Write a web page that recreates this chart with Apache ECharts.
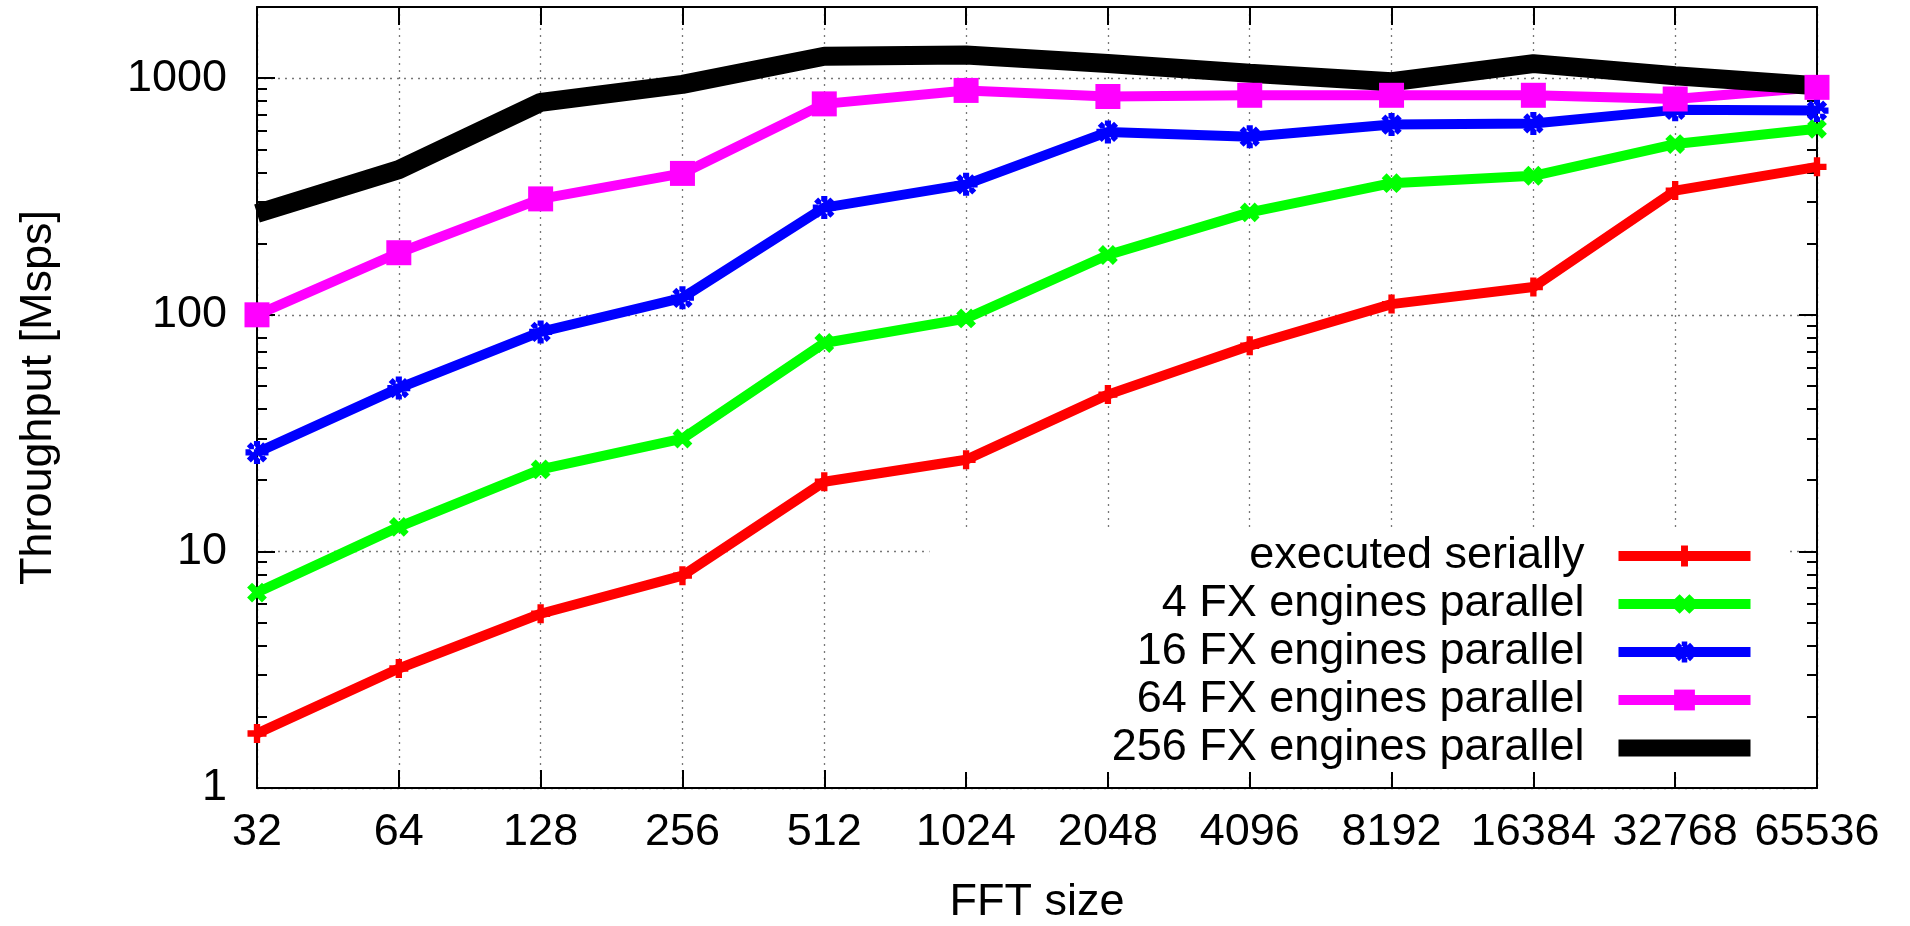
<!DOCTYPE html>
<html>
<head>
<meta charset="utf-8">
<script src="https://cdn.jsdelivr.net/npm/echarts@6/dist/echarts.min.js"></script>
<style>
html,body{margin:0;padding:0;background:#fff;}
#chart{width:1910px;height:926px;}
</style>
</head>
<body>
<div id="chart"></div>
<script>
// ---- data ----
var categories = ['32','64','128','256','512','1024','2048','4096','8192','16384','32768','65536'];
var serial  = [1.7, 3.2, 5.45, 7.9, 19.7, 24.4, 46, 74, 111, 131, 335, 422];
var fx4     = [6.7, 12.7, 22.2, 30, 76, 96.5, 179, 271, 360, 387, 527, 611];
var fx16    = [26.2, 49, 84.7, 118, 284, 356, 593, 566, 637, 644, 735, 730];
var fx64    = [100, 183, 309, 396, 779, 888, 837, 847, 847, 847, 817, 915];
var fx256   = [268, 411, 790, 942, 1238, 1253, 1153, 1049, 966, 1153, 1025, 929];
var seriesNames = ['executed serially','4 FX engines parallel','16 FX engines parallel','64 FX engines parallel','256 FX engines parallel'];
var majorTickValues = [1, 10, 100, 1000];
var minorTickValues = [2,3,4,5,6,7,8,9,20,30,40,50,60,70,80,90,200,300,400,500,600,700,800,900,2000];

var FONT = "'Liberation Sans', Arial, Helvetica, sans-serif";
var plusPath = 'path://M-2,-6H2V-2H6V2H2V6H-2V2H-6V-2H-2Z';
var starPath = 'path://M-1.6,-6H1.6V6H-1.6Z M-6,-1.6H6V1.6H-6Z M3.2,5.3L5.3,3.2L-3.2,-5.3L-5.3,-3.2Z M-3.2,5.3L-5.3,3.2L3.2,-5.3L5.3,-3.2Z';

var chart = echarts.init(document.getElementById('chart'));
var gridStyle = {color:'#777', width:1.3, type:[2,5]};
function yAx(pos, major, labels) {
  return {
    type:'log', min:1, max:2000, position:pos,
    axisLine:{show:major, onZero:false, lineStyle:{color:'#000', width:2}},
    axisTick:{show:true, inside:true, length: major?18:10, lineStyle:{color:'#000', width:2},
              customValues: major ? majorTickValues : minorTickValues},
    minorTick:{show:false},
    axisLabel:{show:labels, color:'#000', fontSize:45, fontFamily:FONT, margin:30,
               customValues: majorTickValues,
               formatter:function(v){ return String(Math.round(v)); }},
    splitLine: labels ? {show:true, lineStyle:gridStyle} : {show:false},
    name: labels ? 'Throughput [Msps]' : '',
    nameLocation:'middle', nameGap:196, nameRotate:90,
    nameTextStyle:{color:'#000', fontSize:45, fontFamily:FONT}
  };
}
function xAx(pos, labels) {
  return {
    type:'category', data:categories, boundaryGap:false, position:pos,
    axisLine:{show:true, onZero:false, lineStyle:{color:'#000', width:2}},
    axisTick:{show:true, inside:true, length:18, lineStyle:{color:'#000', width:2}},
    axisLabel:{show:labels, color:'#000', fontSize:45, fontFamily:FONT, margin:22, interval:0},
    splitLine: labels ? {show:true, interval:0, lineStyle:gridStyle} : {show:false},
    name: labels ? 'FFT size' : '',
    nameLocation:'middle', nameGap:92,
    nameTextStyle:{color:'#000', fontSize:45, fontFamily:FONT}
  };
}

function mkSeries(name, data, color, width, symbol, size, rot) {
  return {
    name:name, type:'line', data:data, xAxisIndex:0, yAxisIndex:0,
    symbol:symbol, symbolSize:size, symbolRotate:rot||0, showAllSymbol:true,
    lineStyle:{color:color, width:width},
    itemStyle:{color:color, borderWidth:0},
    emphasis:{disabled:true}, animation:false
  };
}
var colors = ['#ff0000','#00ff00','#0000ff','#ff00ff','#000000'];
var legendWidths = [10,10,10,10,17];
var legendData = seriesNames.map(function(n,i){
  var d = {name:n, lineStyle:{width:legendWidths[i], color:colors[i]}};
  if (i === 4) d.itemStyle = {opacity:0};
  return d;
});

chart.setOption({
  backgroundColor:'#fff',
  animation:false,
  grid:{left:257, right:93, top:7, bottom:138, containLabel:false, outerBoundsMode:'none'},
  xAxis:[xAx('bottom', true), xAx('top', false)],
  yAxis:[yAx('left', true, true), yAx('left', false, false), yAx('right', true, false), yAx('right', false, false)],
  legend:{
    orient:'vertical', align:'right', right:120, top:532,
    padding:[0,31,0,10], itemGap:0, itemWidth:132, itemHeight:26,
    backgroundColor:'#fff', selectedMode:false,
    data:legendData,
    textStyle:{color:'#000', fontSize:45, fontFamily:FONT, width:645, align:'right', lineHeight:48, padding:[0,29,0,0], overflow:'none'}
  },
  series:[
    mkSeries(seriesNames[0], serial, colors[0], 10, plusPath, 19),
    mkSeries(seriesNames[1], fx4, colors[1], 10, plusPath, 21, 45),
    mkSeries(seriesNames[2], fx16, colors[2], 10, starPath, 23),
    mkSeries(seriesNames[3], fx64, colors[3], 10, 'rect', 25),
    mkSeries(seriesNames[4], fx256, colors[4], 19, 'none', 0)
  ]
});
</script>
</body>
</html>
